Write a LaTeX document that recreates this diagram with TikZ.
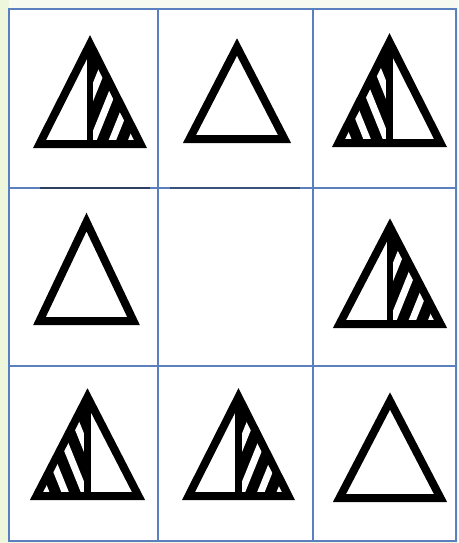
\documentclass[tikz,border=0pt]{standalone}
\definecolor{gridblue}{HTML}{5B7FBF}
\definecolor{bgreen}{HTML}{EEF7DC}
\definecolor{btop}{HTML}{F6FAF0}
\tikzset{
  trione/.style={line width=6pt, line join=miter, black},
  midl/.style={line width=5pt, black},
  gapline/.style={white, line width=5.2pt, line cap=round},
  gridline/.style={gridblue, line width=1.6pt}
}
% #1 apex x, #2 apex y, #3 base y, #4 half width, #5 type (0 plain, 1 right hatched, 2 left hatched)
\newcommand\drawtri[5]{%
  \ifnum#5=1
    \begin{scope}
      \clip (#1,#2) -- (#1,#3) -- ({#1+#4},#3) -- cycle;
      \fill[black] (#1,#2) -- (#1,#3) -- ({#1+#4},#3) -- cycle;
      \foreach \c in {-37.4,-18,1.4,20.8,40.2,59.6}
        \draw[gapline] ({#1+\c-8.08},{#3+20}) -- ({#1+\c+60.6},{#3-150});
    \end{scope}
  \fi
  \ifnum#5=2
    \begin{scope}
      \clip (#1,#2) -- (#1,#3) -- ({#1-#4},#3) -- cycle;
      \fill[black] (#1,#2) -- (#1,#3) -- ({#1-#4},#3) -- cycle;
      \foreach \c in {-37.4,-18,1.4,20.8,40.2,59.6}
        \draw[gapline] ({#1-\c+8.08},{#3+20}) -- ({#1-\c-60.6},{#3-150});
    \end{scope}
  \fi
  \ifnum#5>0
    \draw[midl] (#1,{#2+2}) -- (#1,#3);
  \fi
  \draw[trione] (#1,#2) -- ({#1+#4},#3) -- ({#1-#4},#3) -- cycle;
}
\begin{document}
\begin{tikzpicture}[x=0.75pt,y=-0.75pt]
\useasboundingbox (0,0) rectangle (458,543);
\fill[bgreen] (0,0) rectangle (458,543);
\fill[btop] (9,0) rectangle (458,9);
\fill[white] (9,9) rectangle (456,541);
% grid
\draw[gridline] (9,9) rectangle (456,541);
\draw[gridline] (158,9) -- (158,541);
\draw[gridline] (313,9) -- (313,541);
\draw[gridline] (9,188) -- (456,188);
\draw[gridline] (9,366) -- (456,366);
\draw[black!70!gridblue, line width=1.4pt, opacity=0.7] (40,188) -- (150,188);
\draw[black!70!gridblue, line width=1.2pt, opacity=0.5] (170,188) -- (300,188);
% triangles
\drawtri{90}{44}{144}{50.5}{1}
\drawtri{237}{47}{139}{47.5}{0}
\drawtri{389.5}{42}{143}{51}{2}
\drawtri{86.5}{222}{321}{47}{0}
\drawtri{390}{227}{324}{50.5}{1}
\drawtri{87.5}{397}{496}{51}{2}
\drawtri{238.5}{397}{496}{50}{1}
\drawtri{390}{401}{498}{50.5}{0}
\end{tikzpicture}
\end{document}
